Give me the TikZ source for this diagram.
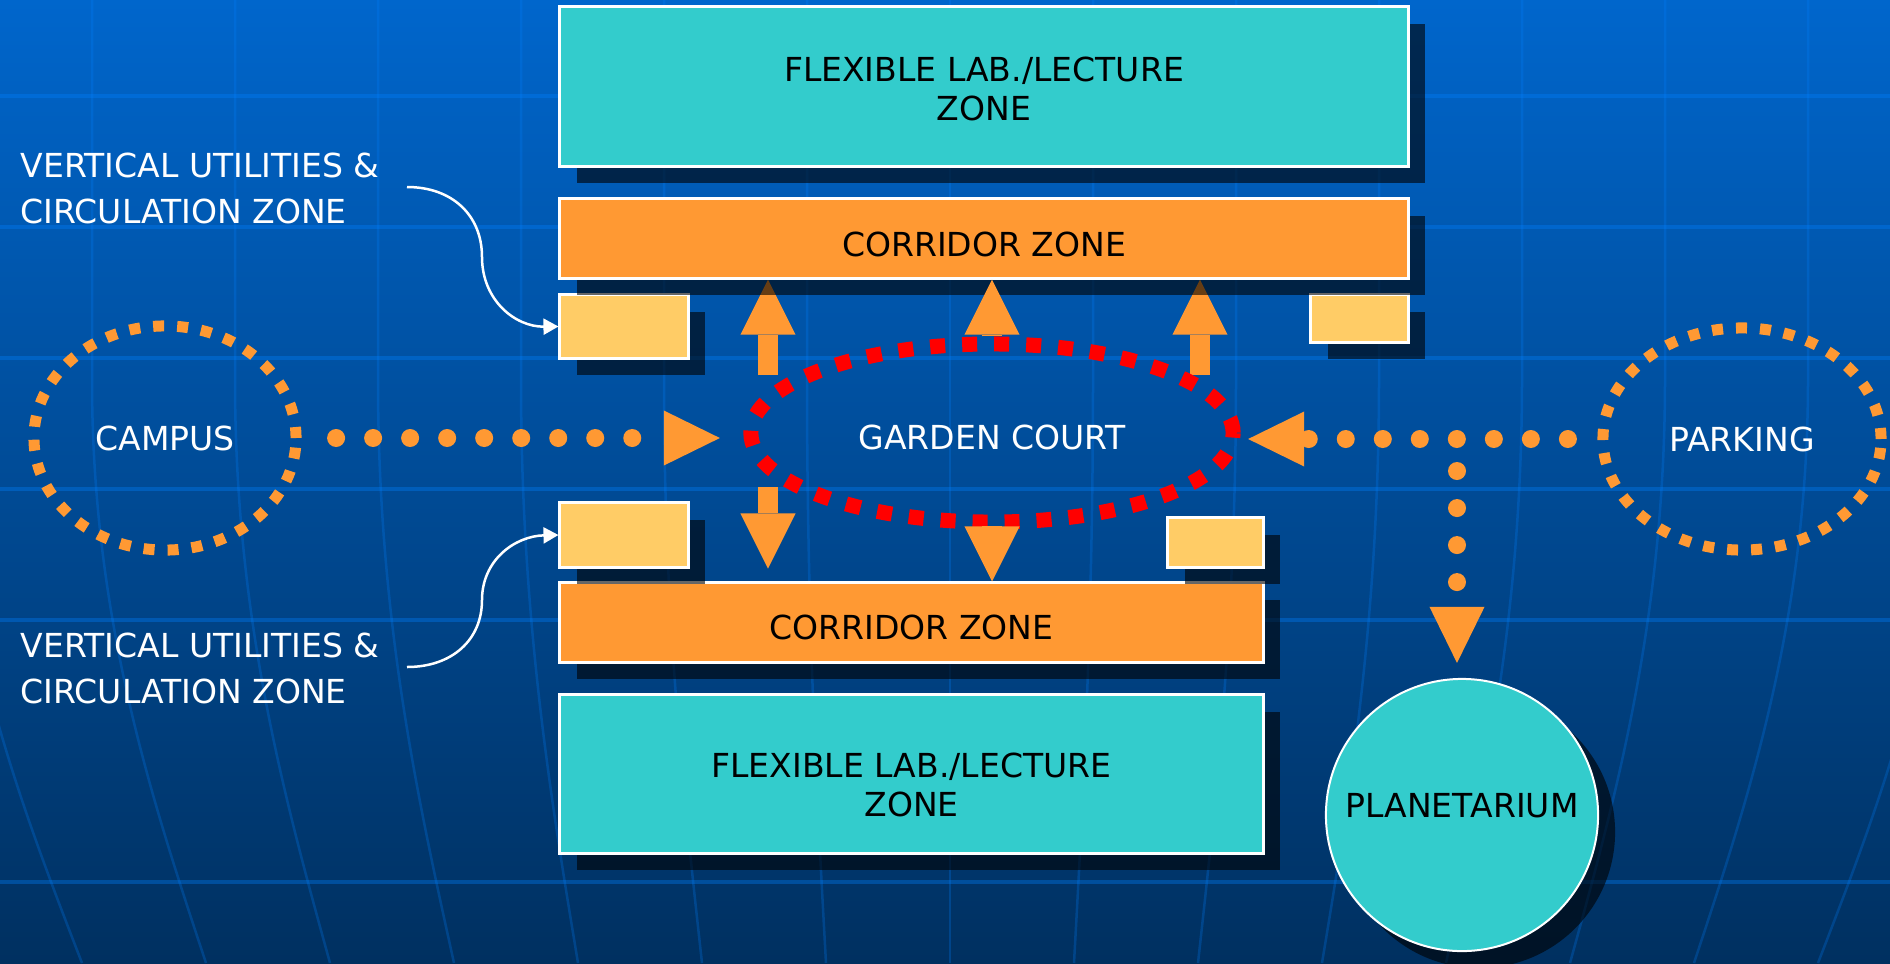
\documentclass[tikz,border=0pt]{standalone}
\usepackage{fontspec}
\setmainfont{DejaVu Sans}
\usetikzlibrary{shapes.geometric,shadows,arrows.meta}
\pgfdeclarelayer{bg}
\pgfdeclarelayer{flows}
\pgfsetlayers{bg,flows,main}

\definecolor{bgtop}{RGB}{0,102,204}
\definecolor{bgmid}{RGB}{0,82,165}
\definecolor{bgbot}{RGB}{0,48,96}
\definecolor{gridblue}{RGB}{0,128,255}
\definecolor{labcyan}{RGB}{51,204,204}
\definecolor{corrorange}{RGB}{255,153,51}
\definecolor{utilyellow}{RGB}{255,204,102}

\begin{document}
\begin{tikzpicture}[x=0.01cm, y=-0.01cm, font=\fontsize{9.4}{11.1}\selectfont]
	\tikzstyle{gridline} = [draw=gridblue, line width=0.035cm, opacity=0.35]
	\tikzstyle{meridian} = [draw=gridblue, line width=0.025cm, opacity=0.25]
	\tikzstyle{shadowed} = [drop shadow={shadow xshift=0.17cm, shadow yshift=-0.17cm, fill=black, opacity=0.6}]
	\tikzstyle{zone} = [rectangle, draw=white, line width=0.03cm, inner sep=0pt, align=center, shadowed]
	\tikzstyle{labzone} = [zone, fill=labcyan]
	\tikzstyle{corrzone} = [zone, fill=corrorange]
	\tikzstyle{utilzone} = [zone, fill=utilyellow]
	\tikzstyle{place} = [ellipse, draw=corrorange, line width=0.11cm, dash pattern=on 0.11cm off 0.13cm, text=white, inner sep=0pt]
	\tikzstyle{court} = [ellipse, draw=red, line width=0.15cm, dash pattern=on 0.15cm off 0.17cm, text=white, inner sep=0pt]
	\tikzstyle{sidelabel} = [text=white, align=left, inner sep=0pt, anchor=west, font=\fontsize{9.4}{13.1}\selectfont]
	\tikzstyle{dotpath} = [draw=corrorange, line width=0.18cm, line cap=round, dash pattern=on 0pt off 0.37cm, -{Triangle[length=0.56cm, width=0.55cm, line width=0pt]}]
	\tikzstyle{flow} = [draw=corrorange, line width=0.2cm, -{Triangle[length=0.55cm, width=0.55cm, line width=0pt]}]
	\tikzstyle{pointer} = [draw=white, line width=0.025cm, -{Triangle[length=0.15cm, width=0.16cm]}]

	\useasboundingbox (0,0) rectangle (1890,963);
	% background and globe grid
	\begin{pgfonlayer}{bg}
		\shade[top color=bgtop, middle color=bgmid, bottom color=bgbot] (0,0) rectangle (1890,963);
		\foreach \gy in {96,227,358,489,620,882}
			\draw[gridline] (0,\gy) -- (1890,\gy);
		\foreach \k in {-7,...,7} {
			\pgfmathsetmacro{\xt}{950+143*\k}
			\pgfmathsetmacro{\xm}{950+133*\k}
			\pgfmathsetmacro{\xb}{950+124*\k}
			\draw[meridian] (\xt,0) -- (\xt,380) .. controls (\xt,620) and (\xm,800) .. (\xb,963);
		}
	\end{pgfonlayer}

	% zones
	\node[labzone, minimum width=8.48cm, minimum height=1.59cm] (labtop) at (984,86.5) {\rule{0pt}{0.29cm}FLEXIBLE LAB./LECTURE\\ZONE};
	\node[utilzone, minimum width=1.28cm, minimum height=0.63cm] (utilTL) at (624,326.5) {};
	\node[utilzone, minimum width=0.97cm, minimum height=0.47cm] (utilTR) at (1359.5,318.5) {};
	\node[corrzone, minimum width=8.48cm, minimum height=0.79cm] (corrtop) at (984,238.5) {\rule{0pt}{0.36cm}CORRIDOR ZONE};
	\node[corrzone, minimum width=7.03cm, minimum height=0.79cm] (corrbot) at (911.5,622.5) {\rule{0pt}{0.35cm}CORRIDOR ZONE};
	\node[utilzone, minimum width=1.28cm, minimum height=0.64cm] (utilBL) at (624,535) {};
	\node[utilzone, minimum width=0.95cm, minimum height=0.49cm] (utilBR) at (1215.5,542.5) {};
	\node[labzone, minimum width=7.03cm, minimum height=1.58cm] (labbot) at (911.5,774) {\rule{0pt}{0.46cm}FLEXIBLE LAB./LECTURE\\ZONE};
	\node[circle, draw=white, line width=0.02cm, fill=labcyan, shadowed, minimum size=2.72cm, inner sep=0pt] (planet) at (1462,815) {\rule[-0.2cm]{0pt}{0.2cm}PLANETARIUM};

	% places
	\node[place, minimum width=2.62cm, minimum height=2.24cm] (campus) at (165,438) {CAMPUS};
	\node[place, minimum width=2.78cm, minimum height=2.22cm] (parking) at (1742,439) {PARKING};
	\node[court, minimum width=4.82cm, minimum height=1.78cm] (garden) at (992,433) {\rule{0pt}{0.34cm}GARDEN COURT};

	% side labels
	\node[sidelabel] (vutop) at (20,188) {VERTICAL UTILITIES \&\\CIRCULATION ZONE};
	\node[sidelabel] (vubot) at (20,668) {VERTICAL UTILITIES \&\\CIRCULATION ZONE};
	\coordinate (vutopend) at (407,187);
	\coordinate (vubotend) at (407,667);
	\draw[pointer] (vutopend) .. controls (452,187) and (482,215) .. (482,257) .. controls (482,300) and (515,327) .. (utilTL.west);
	\draw[pointer] (vubotend) .. controls (452,667) and (482,640) .. (482,600) .. controls (482,560) and (515,536) .. (utilBL.west);

	% dotted routes
	\coordinate (fork) at (1457,439);
	\draw[dotpath, shorten <=0.345cm, shorten >=0.235cm] (campus.east) -- (garden.west |- campus.east);
	\draw[dotpath, shorten <=0.295cm, shorten >=0.075cm] (parking.west) -- (garden.east |- parking.west);
	\draw[dotpath, shorten <=0.32cm, shorten >=0.15cm] (fork) -- (fork |- planet.north);

	% flows out of the court
	\coordinate (upL) at (768,375);
	\coordinate (upR) at (1200,375);
	\coordinate (downL) at (768,487);
	\begin{pgfonlayer}{flows}
		\draw[flow] (upL) -- (upL |- corrtop.south);
		\draw[flow] (upR) -- (upR |- corrtop.south);
		\draw[flow] (downL) -- (downL |- utilBL.south);
	\end{pgfonlayer}
	\draw[flow] (garden.north) -- (garden.north |- corrtop.south);
	\draw[flow] (garden.south) -- (garden.south |- corrbot.north);
\end{tikzpicture}
\end{document}
